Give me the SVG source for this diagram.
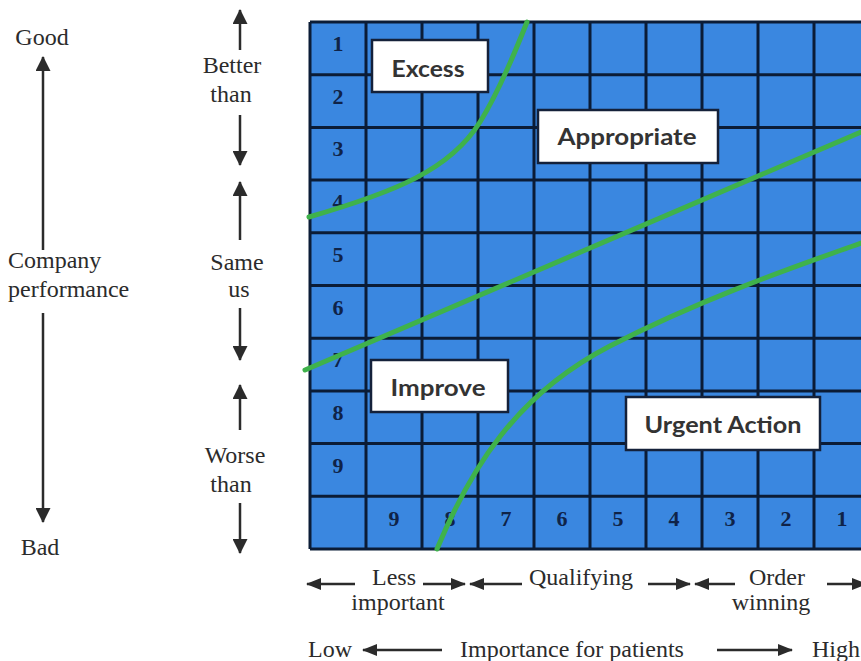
<svg xmlns="http://www.w3.org/2000/svg" width="861" height="661" viewBox="0 0 861 661">
<defs>
<style>
.t{font-family:"Liberation Serif","Times New Roman",serif;font-size:24px;fill:#2b2b2b}
.n{font-family:"Liberation Serif","Times New Roman",serif;font-size:22px;font-weight:bold;fill:#0f2348;text-anchor:middle}
.g{stroke:#0b1c36;stroke-width:3}
.box{fill:#ffffff;stroke:#14213a;stroke-width:2.5}
.bl{font-family:Lato,"Liberation Sans",sans-serif;font-weight:700;font-size:23px;fill:#333333;text-anchor:middle}
.cv{fill:none;stroke:#3fb24b;stroke-width:5;stroke-linecap:round}
.ar{stroke:#2b2b2b;stroke-width:2.5;fill:none}
</style>
<marker id="ah" markerWidth="15" markerHeight="12" refX="14" refY="6" orient="auto-start-reverse" markerUnits="userSpaceOnUse"><path d="M0,0 L15,6 L0,12 z" fill="#2b2b2b"/></marker>
<marker id="av" markerWidth="15" markerHeight="15" refX="14" refY="7.5" orient="auto-start-reverse" markerUnits="userSpaceOnUse"><path d="M0,0 L15,7.5 L0,15 z" fill="#2b2b2b"/></marker>
</defs>
<rect width="861" height="661" fill="#ffffff"/>

<!-- grid -->
<g id="grid">
<rect x="310" y="22" width="560" height="527" fill="#3a87e0"/>
<g class="g">
<line x1="310" y1="22" x2="310" y2="549"/>
<line x1="366" y1="22" x2="366" y2="549"/>
<line x1="422" y1="22" x2="422" y2="549"/>
<line x1="478" y1="22" x2="478" y2="549"/>
<line x1="534" y1="22" x2="534" y2="549"/>
<line x1="590" y1="22" x2="590" y2="549"/>
<line x1="646" y1="22" x2="646" y2="549"/>
<line x1="702" y1="22" x2="702" y2="549"/>
<line x1="758" y1="22" x2="758" y2="549"/>
<line x1="814" y1="22" x2="814" y2="549"/>
<line x1="310" y1="22" x2="870" y2="22"/>
<line x1="310" y1="74.7" x2="870" y2="74.7"/>
<line x1="310" y1="127.4" x2="870" y2="127.4"/>
<line x1="310" y1="180.1" x2="870" y2="180.1"/>
<line x1="310" y1="232.8" x2="870" y2="232.8"/>
<line x1="310" y1="285.5" x2="870" y2="285.5"/>
<line x1="310" y1="338.2" x2="870" y2="338.2"/>
<line x1="310" y1="390.9" x2="870" y2="390.9"/>
<line x1="310" y1="443.6" x2="870" y2="443.6"/>
<line x1="310" y1="496.3" x2="870" y2="496.3"/>
<line x1="310" y1="549" x2="870" y2="549"/>
</g>
<g id="row-numbers">
<text class="n" x="338" y="51">1</text>
<text class="n" x="338" y="104">2</text>
<text class="n" x="338" y="156">3</text>
<text class="n" x="338" y="209">4</text>
<text class="n" x="338" y="262">5</text>
<text class="n" x="338" y="315">6</text>
<text class="n" x="338" y="367">7</text>
<text class="n" x="338" y="420">8</text>
<text class="n" x="338" y="473">9</text>
</g>
<g id="col-numbers">
<text class="n" x="394" y="526">9</text>
<text class="n" x="450" y="526">8</text>
<text class="n" x="506" y="526">7</text>
<text class="n" x="562" y="526">6</text>
<text class="n" x="618" y="526">5</text>
<text class="n" x="674" y="526">4</text>
<text class="n" x="730" y="526">3</text>
<text class="n" x="786" y="526">2</text>
<text class="n" x="842" y="526">1</text>
</g>
</g>

<!-- green boundary curves -->
<g id="curves">
<path class="cv" d="M309,217 C395,192 450,170 480,122 C495,98 512,60 527,22"/>
<path class="cv" d="M305,370 L861,132"/>
<path class="cv" d="M437,549 C470,470 515,395 610,346 C705,297 800,265 861,243"/>
</g>

<!-- region labels -->
<g id="node-excess">
<rect class="box" x="372" y="40" width="116" height="52"/>
<text class="bl" x="428" y="77" textLength="73" lengthAdjust="spacingAndGlyphs">Excess</text>
</g>
<g id="node-appropriate">
<rect class="box" x="538" y="110" width="180" height="53"/>
<text class="bl" x="627" y="145" textLength="139" lengthAdjust="spacingAndGlyphs">Appropriate</text>
</g>
<g id="node-improve">
<rect class="box" x="371" y="360" width="137" height="52"/>
<text class="bl" x="438" y="396" textLength="95" lengthAdjust="spacingAndGlyphs">Improve</text>
</g>
<g id="node-urgent">
<rect class="box" x="626" y="397" width="194" height="53"/>
<text class="bl" x="723" y="433" textLength="157" lengthAdjust="spacingAndGlyphs">Urgent Action</text>
</g>

<!-- axis texts -->
<g id="left-axis">
<text class="t" x="42" y="45" text-anchor="middle">Good</text>
<text class="t" x="8" y="268">Company</text>
<text class="t" x="8" y="297">performance</text>
<text class="t" x="40" y="555" text-anchor="middle">Bad</text>
</g>
<g id="right-axis">
<text class="t" x="232" y="73" text-anchor="middle">Better</text>
<text class="t" x="231" y="102" text-anchor="middle">than</text>
<text class="t" x="237" y="270" text-anchor="middle">Same</text>
<text class="t" x="239" y="297" text-anchor="middle">us</text>
<text class="t" x="235" y="463" text-anchor="middle">Worse</text>
<text class="t" x="231" y="492" text-anchor="middle">than</text>
</g>
<g id="bottom-axis">
<text class="t" x="394" y="585" text-anchor="middle">Less</text>
<text class="t" x="398" y="610" text-anchor="middle">important</text>
<text class="t" x="581" y="585" text-anchor="middle">Qualifying</text>
<text class="t" x="777" y="585" text-anchor="middle">Order</text>
<text class="t" x="771" y="610" text-anchor="middle">winning</text>
<text class="t" x="308" y="657">Low</text>
<text class="t" x="572" y="657" text-anchor="middle">Importance for patients</text>
<text class="t" x="860" y="657" text-anchor="end">High</text>
</g>

<!-- connectors (arrows) -->
<g id="connectors">
<line class="ar" x1="43" y1="250" x2="43" y2="57" marker-end="url(#av)"/>
<line class="ar" x1="43" y1="313" x2="43" y2="522" marker-end="url(#av)"/>
<line class="ar" x1="240" y1="50" x2="240" y2="10" marker-end="url(#av)"/>
<line class="ar" x1="240" y1="115" x2="240" y2="165" marker-end="url(#av)"/>
<line class="ar" x1="240" y1="240" x2="240" y2="182" marker-end="url(#av)"/>
<line class="ar" x1="240" y1="308" x2="240" y2="360" marker-end="url(#av)"/>
<line class="ar" x1="240" y1="430" x2="240" y2="385" marker-end="url(#av)"/>
<line class="ar" x1="240" y1="503" x2="240" y2="553" marker-end="url(#av)"/>
<line class="ar" x1="355" y1="584" x2="307" y2="584" marker-end="url(#ah)"/>
<line class="ar" x1="423" y1="584" x2="465" y2="584" marker-end="url(#ah)"/>
<line class="ar" x1="522" y1="584" x2="470" y2="584" marker-end="url(#ah)"/>
<line class="ar" x1="648" y1="584" x2="690" y2="584" marker-end="url(#ah)"/>
<line class="ar" x1="735" y1="584" x2="695" y2="584" marker-end="url(#ah)"/>
<line class="ar" x1="827" y1="584" x2="866" y2="584" marker-end="url(#ah)"/>
<line class="ar" x1="442" y1="650" x2="363" y2="650" marker-end="url(#ah)"/>
<line class="ar" x1="717" y1="650" x2="792" y2="650" marker-end="url(#ah)"/>
</g>
</svg>
